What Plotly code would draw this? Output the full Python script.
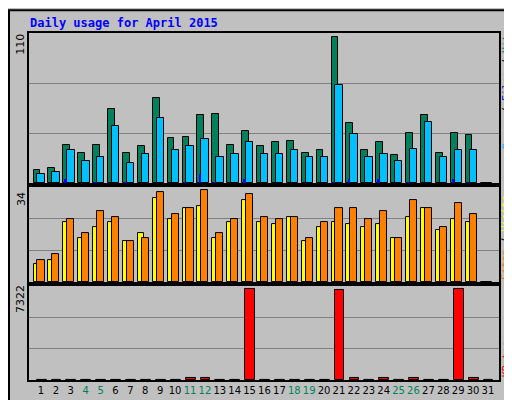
import plotly.graph_objects as go
from plotly.subplots import make_subplots

days = list(range(1, 32))
weekend = [4, 5, 11, 12, 18, 19, 25, 26]

hits = [9.5, 11, 28, 22.5, 28, 54, 22.5, 27, 62.5, 33, 34, 50, 51, 28, 38.5, 27.5,
        30, 31, 22.5, 24.5, 107, 44, 24.5, 30.5, 21, 37, 50, 22.5, 37, 35.5, 0]
files = [6.5, 8, 24, 16, 19.5, 42, 15, 21.5, 48, 24, 27, 32.5, 19.5, 21.5, 30, 21.5,
         21.5, 24.5, 19.5, 19.5, 72, 36, 19.5, 21.5, 16, 25, 45, 19, 24, 24, 0]
pages = [0, 0, 3, 0, 1, 0, 1, 0, 0, 0, 1, 7, 1, 0, 3, 0,
         0, 0, 0, 0, 1, 3, 0, 3, 0, 1, 0, 0, 3, 1, 0]
sites = [6.3, 8, 21.5, 15.8, 19.7, 21.5, 14.8, 17.6, 30, 22.6, 26.5, 27.2, 15.8, 21.5, 29.4, 21.5,
         20.8, 23.3, 14.8, 19.7, 21.5, 20.8, 19.7, 20.8, 15.8, 23.3, 26.5, 18.7, 22.6, 21.5, 0]
visits = [8, 10.2, 22.6, 17.6, 25.4, 23.3, 14.8, 15.8, 32.2, 24.4, 26.5, 33, 17.6, 22.6, 31.6, 23.3,
          22.6, 23.3, 15.8, 21.5, 26.5, 26.5, 22.6, 25.4, 15.8, 29.4, 26.5, 19.7, 28.4, 24.4, 0]
kbytes = [40, 40, 40, 40, 40, 40, 40, 40, 40, 40, 180, 180, 40, 40, 7322, 40,
          40, 40, 40, 40, 7240, 180, 40, 180, 40, 180, 40, 40, 7322, 180, 0]

BG = "#c0c0c0"
line = dict(color="black", width=1)

fig = make_subplots(rows=3, cols=1, shared_xaxes=True)

fig.add_trace(go.Bar(x=days, y=hits, width=0.46, offset=-0.5, marker=dict(color="#00805c", line=line)), 1, 1)
fig.add_trace(go.Bar(x=days, y=files, width=0.5, offset=-0.24, marker=dict(color="#00c0ff", line=line)), 1, 1)
fig.add_trace(go.Bar(x=days, y=pages, width=0.13, offset=-0.39, marker=dict(color="#0000ff", line=dict(width=0))), 1, 1)
fig.add_trace(go.Bar(x=days, y=sites, width=0.4, offset=-0.5, marker=dict(color="#ffff00", line=line)), 2, 1)
fig.add_trace(go.Bar(x=days, y=visits, width=0.48, offset=-0.24, marker=dict(color="#ff8000", line=line)), 2, 1)
fig.add_trace(go.Bar(x=days, y=kbytes, width=0.66, offset=-0.29, marker=dict(color="#ff0000", line=line)), 3, 1)

ticktext = [f"<span style='color:#00805c'>{d}</span>" if d in weekend else str(d) for d in days]

ax = dict(showline=True, mirror=True, linecolor="black", linewidth=2, zeroline=False)
fig.update_xaxes(range=[0.195, 31.74], showgrid=False, ticks="", **ax)
fig.update_xaxes(tickvals=days, ticktext=ticktext, tickangle=0,
                 tickfont=dict(family="DejaVu Sans", size=10, color="black"), row=3, col=1)

ranges = [110, 34, 7322 * 1.03]
doms = [[0.567, 1], [0.282, 0.556], [0, 0.271]]
for i in range(3):
    r = ranges[i]
    fig.update_yaxes(range=[0, r], domain=doms[i], tickvals=[r / 3, 2 * r / 3], showticklabels=False,
                     gridcolor="#808080", gridwidth=1, ticks="", row=i + 1, col=1, **ax)

mono = "DejaVu Sans Mono"
ann = [
    dict(x=20, y=15, text="<b>Daily usage for April 2015</b>", font=dict(family=mono, size=12, color="#0000ff"),
         xanchor="left", textangle=0),
    dict(x=13, y=37, text="110", font=dict(family="DejaVu Sans", size=11, color="black"), textangle=-90),
    dict(x=13, y=193, text="34", font=dict(family="DejaVu Sans", size=11, color="black"), textangle=-90),
    dict(x=13, y=294, text="7322", font=dict(family="DejaVu Sans", size=11, color="black"), textangle=-90),
    dict(x=498, y=82, text="<span style='color:#00c0ff'>Pages</span> / <span style='color:#0000ff'>Files</span>"
                           " / <span style='color:#00805c'>Hits</span>",
         font=dict(family=mono, size=10, color="black"), textangle=-90),
    dict(x=498, y=232, text="<span style='color:#ff8000'>Sites</span> / <span style='color:#ffff00'>Visits</span>",
         font=dict(family=mono, size=10, color="black"), textangle=-90),
    dict(x=498, y=355, text="<span style='color:#ff0000'>KBytes</span>",
         font=dict(family=mono, size=10, color="black"), textangle=-90),
]

fig.update_layout(width=512, height=400, margin=dict(l=21, r=21, t=25, b=24),
                  paper_bgcolor=BG, plot_bgcolor=BG, showlegend=False, barmode="overlay", bargap=0)

# paper coords are relative to the plot area, so convert from pixels
W, H = 470, 351
for a in ann:
    fig.add_annotation(xref="paper", yref="paper", x=(a["x"] - 21) / W, y=(376 - a["y"]) / H, text=a["text"],
                       font=a["font"], textangle=a["textangle"], showarrow=False,
                       xanchor=a.get("xanchor", "center"), yanchor="middle")
fig.add_shape(type="rect", xref="paper", yref="paper", x0=-20 / W, y0=-23 / H, x1=490 / W, y1=374 / H,
              line=dict(color="black", width=2))

fig.write_html("out.html")
